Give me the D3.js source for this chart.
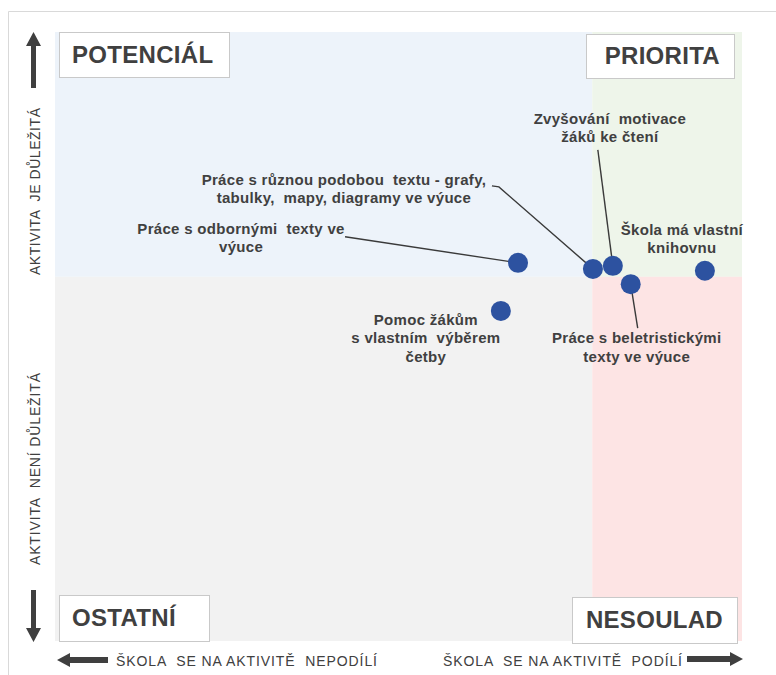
<!DOCTYPE html>
<html>
<head>
<meta charset="utf-8">
<script src="https://cdn.jsdelivr.net/npm/d3@7"></script>
<style>
  body { margin: 0; background: #fff; }
  text { font-family: "Liberation Sans", Arial, sans-serif; fill: #404040; white-space: pre; }
  .narrow { font-family: "Liberation Sans Narrow", "Arial Narrow", "Liberation Sans", sans-serif; }
</style>
</head>
<body>
<div id="chart"></div>
<script>
// data (x = share of schools taking part, y = importance)
var activities = [
    ["Práce s odbornými  texty ve", "výuce"],
    ["Práce s různou podobou  textu - grafy,", "tabulky,  mapy, diagramy ve výuce"],
    ["Zvyšování  motivace", "žáků ke čtení"],
    ["Škola má vlastní", "knihovnu"],
    ["Práce s beletristickými", "texty ve výuce"],
    ["Pomoc žákům", "s vlastním  výběrem", "četby"]
];
var participation = [67.4, 78.3, 81.2, 94.6, 83.8, 64.9];
var importance = [62.1, 61.1, 61.6, 60.8, 58.6, 54.2];
var xSplit = 78.2;
var ySplit = 59.8;

var quadrantNames = ["POTENCIÁL", "PRIORITA", "OSTATNÍ", "NESOULAD"];
var xAxisLabels = ["ŠKOLA  SE NA AKTIVITĚ  NEPODÍLÍ", "ŠKOLA  SE NA AKTIVITĚ  PODÍLÍ"];
var yAxisLabels = ["AKTIVITA  JE DŮLEŽITÁ", "AKTIVITA  NENÍ DŮLEŽITÁ"];

// label placement relative to the point (layout only)
var labelLayout = [
    { dx: -277, dy: -29, leader: [[-173, -26]] },
    { dx: -249, dy: -84, leader: [[-101, -83], [-94, -82]] },
    { dx: -3, dy: -142, leader: [[-15, -116]] },
    { dx: -23, dy: -36, leader: null },
    { dx: 6, dy: 59, leader: [[7, 44]] },
    { dx: -75, dy: 14, leader: null }
];

var svgWidth = 776;
var svgHeight = 675;

var svg = d3.select("#chart")
    .append("svg")
    .attr("width", svgWidth)
    .attr("height", svgHeight);

var x = d3.scaleLinear().domain([0, 100]).range([55, 742]);
var y = d3.scaleLinear().domain([0, 100]).range([641, 32]);

// outer frame
svg.append("path")
    .attr("d", "M8.5,675 V11.5 H776")
    .attr("fill", "none")
    .attr("stroke", "#d9d9d9");

// quadrant backgrounds
var quads = [
    { x0: 0, x1: xSplit, y0: ySplit, y1: 100, fill: "#edf3fa" },
    { x0: xSplit, x1: 100, y0: ySplit, y1: 100, fill: "#eef5ea" },
    { x0: 0, x1: xSplit, y0: 0, y1: ySplit, fill: "#f2f2f2" },
    { x0: xSplit, x1: 100, y0: 0, y1: ySplit, fill: "#fde4e4" }
];
svg.selectAll("rect.quad")
    .data(quads)
    .enter()
    .append("rect")
    .attr("class", "quad")
    .attr("x", d => x(d.x0))
    .attr("y", d => y(d.y1))
    .attr("width", d => x(d.x1) - x(d.x0))
    .attr("height", d => y(d.y0) - y(d.y1))
    .attr("fill", d => d.fill);

// quadrant name boxes
var boxes = [
    { x: 59, y: 32, w: 170, h: 45, anchor: "start", tx: 72 },
    { x: 586, y: 34, w: 148, h: 44, anchor: "end", tx: 720 },
    { x: 59, y: 595, w: 150, h: 46, anchor: "start", tx: 72 },
    { x: 572, y: 597, w: 165, h: 46, anchor: "end", tx: 723 }
];
boxes.forEach(function (b, i) {
    svg.append("rect")
        .attr("x", b.x + 0.5)
        .attr("y", b.y + 0.5)
        .attr("width", b.w)
        .attr("height", b.h)
        .attr("fill", "#fff")
        .attr("stroke", "#c9c9c9");
    svg.append("text")
        .attr("x", b.tx)
        .attr("y", b.y + b.h / 2 + 8)
        .attr("text-anchor", b.anchor)
        .style("font-size", "24px")
        .style("font-weight", "bold")
        .style("letter-spacing", "0.3px")
        .text(quadrantNames[i]);
});

// axis arrows
var arrowColor = "#3f3f3f";
var arrows = [
    "M33.5,32 L41,46 L36,46 L36,88 L31,88 L31,46 L26,46 Z",
    "M33.5,642 L41,628 L36,628 L36,590 L31,590 L31,628 L26,628 Z",
    "M57,660 L70,653 L70,657 L108,657 L108,663 L70,663 L70,667 Z",
    "M743,659 L730,652 L730,656 L687,656 L687,662 L730,662 L730,666 Z"
];
svg.selectAll("path.arrow")
    .data(arrows)
    .enter()
    .append("path")
    .attr("class", "arrow")
    .attr("d", d => d)
    .attr("fill", arrowColor);

// axis titles
svg.append("text")
    .attr("class", "narrow")
    .attr("x", 116)
    .attr("y", 666)
    .attr("textLength", 261)
    .style("font-size", "14px")
    .text(xAxisLabels[0]);
svg.append("text")
    .attr("class", "narrow")
    .attr("x", 443)
    .attr("y", 666)
    .attr("textLength", 239)
    .style("font-size", "14px")
    .text(xAxisLabels[1]);
svg.append("text")
    .attr("class", "narrow")
    .attr("transform", "translate(40,275) rotate(-90)")
    .attr("textLength", 167)
    .style("font-size", "14px")
    .text(yAxisLabels[0]);
svg.append("text")
    .attr("class", "narrow")
    .attr("transform", "translate(40,565) rotate(-90)")
    .attr("textLength", 192)
    .style("font-size", "14px")
    .text(yAxisLabels[1]);

// leader lines
activities.forEach(function (a, i) {
    var lay = labelLayout[i];
    if (!lay.leader) return;
    var px = x(participation[i]);
    var py = y(importance[i]);
    var pts = lay.leader.map(p => [px + p[0], py + p[1]]);
    pts.push([px, py]);
    svg.append("path")
        .attr("d", d3.line()(pts))
        .attr("fill", "none")
        .attr("stroke", "#3a3a3a")
        .attr("stroke-width", 1.4);
});

// points
svg.selectAll("circle.pt")
    .data(activities)
    .enter()
    .append("circle")
    .attr("class", "pt")
    .attr("cx", (d, i) => x(participation[i]))
    .attr("cy", (d, i) => y(importance[i]))
    .attr("r", 10)
    .attr("fill", "#2d52a0");

// point labels
activities.forEach(function (a, i) {
    var lay = labelLayout[i];
    var t = svg.append("text")
        .attr("text-anchor", "middle")
        .style("font-size", "15px")
        .style("font-weight", "bold")
        .style("letter-spacing", "0.3px");
    a.forEach(function (line, j) {
        t.append("tspan")
            .attr("x", x(participation[i]) + lay.dx)
            .attr("y", y(importance[i]) + lay.dy + j * 18.5)
            .text(line);
    });
});
</script>
</body>
</html>
